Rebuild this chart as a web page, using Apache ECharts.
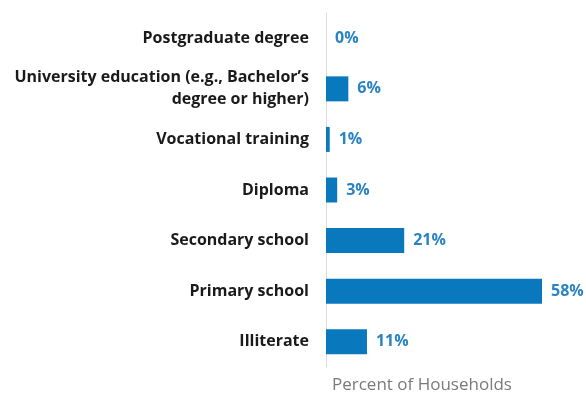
<!DOCTYPE html>
<html>
<head>
<meta charset="utf-8">
<script src="https://cdn.jsdelivr.net/npm/echarts@6/dist/echarts.min.js"></script>
<style>
  html, body { margin: 0; padding: 0; background: #ffffff; }
  #chart { width: 586px; height: 393px; }
</style>
</head>
<body>
<div id="chart"></div>
<script>
// Highest level of education in the household, share of households
const categories = [
  'Postgraduate degree',
  'University education (e.g., Bachelor\u2019s\ndegree or higher)',
  'Vocational training',
  'Diploma',
  'Secondary school',
  'Primary school',
  'Illiterate'
];
const values = [0, 6, 1, 3, 21, 58, 11];
const axisTitle = 'Percent of Households';

const chart = echarts.init(document.getElementById('chart'), null, { renderer: 'canvas' });

chart.setOption({
  animation: false,
  backgroundColor: '#ffffff',
  grid: { left: 326, top: 13, width: 216, height: 354, containLabel: false },
  xAxis: {
    type: 'value',
    min: 0,
    max: 58,
    show: false
  },
  yAxis: {
    type: 'category',
    data: categories,
    inverse: true,
    axisLine: { show: true, lineStyle: { color: '#dcdcdc', width: 1 } },
    axisTick: { show: false },
    splitLine: { show: false },
    axisLabel: {
      margin: 17,
      color: '#1a1a1a',
      fontFamily: 'Open Sans',
      fontWeight: 'bold',
      fontSize: 16,
      lineHeight: 22,
      align: 'right'
    }
  },
  title: {
    text: axisTitle,
    left: 327,
    top: 372,
    textStyle: {
      fontFamily: 'Open Sans',
      fontWeight: 'normal',
      fontSize: 17,
      color: '#7a7a7a'
    }
  },
  series: [{
    type: 'bar',
    data: values,
    barWidth: 25,
    itemStyle: { color: '#0a78bd' },
    label: {
      show: true,
      position: 'right',
      distance: 9,
      formatter: '{c}%',
      color: '#2a84c3',
      fontFamily: 'Open Sans',
      fontWeight: 'bold',
      fontSize: 16
    }
  }]
});
</script>
</body>
</html>
